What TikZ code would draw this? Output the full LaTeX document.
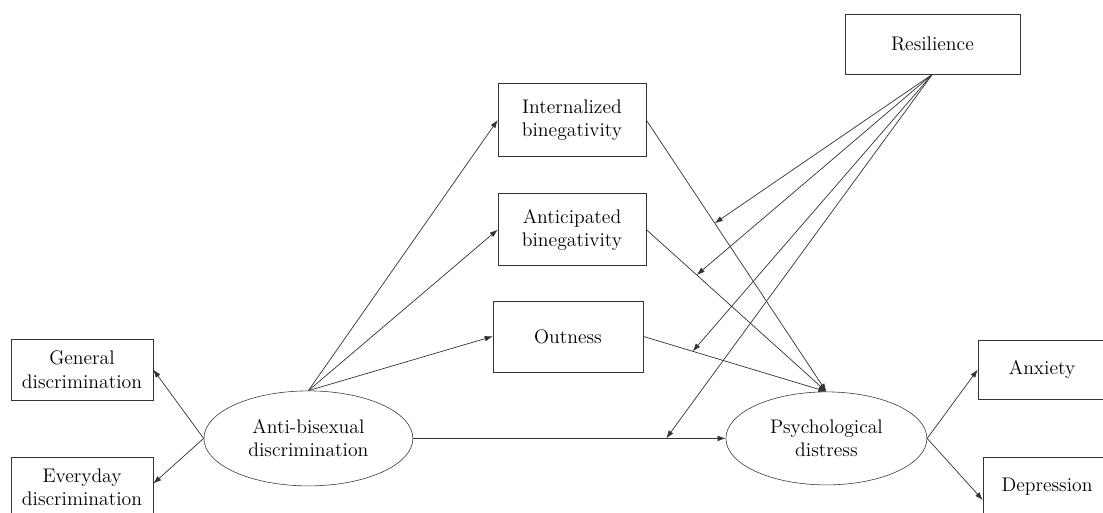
\documentclass[tikz,border=0pt]{standalone}
\usepackage{tikz}
\usetikzlibrary{arrows.meta}
\usetikzlibrary{shapes.geometric,positioning}

\begin{document}
\begin{tikzpicture}[>={Latex[length=2mm,width=1.4mm]},
	font=\fontsize{14}{16.5}\selectfont,
	caixa/.style={draw=black!80, align=center, inner sep=0pt},
	latente/.style={draw=black!80, ellipse, align=center, inner sep=0pt},
	seta/.style={->, draw=black!80, line width=0.5pt}]

	% Área do diagrama
	\useasboundingbox (0,0) rectangle (27.575,-12.825);

	% Variáveis latentes
	\node[latente, minimum width=5.225cm, minimum height=2.375cm] (anti) at (7.71,-10.96) {Anti-bisexual\\discrimination};
	\node[latente, minimum width=5.025cm, minimum height=2.325cm] (psych) at (20.66,-10.96) {Psychological\\distress};

	% Indicadores
	\node[caixa, minimum width=3.55cm, minimum height=1.525cm] (general) at (2.05,-9.24) {General\\discrimination};
	\node[caixa, minimum width=3.55cm, minimum height=1.525cm] (everyday) at (2.05,-12.19) {Everyday\\discrimination};
	\node[caixa, minimum width=3.2cm, minimum height=1.475cm] (anxiety) at (26.05,-9.24) {Anxiety};
	\node[caixa, minimum width=3.2cm, minimum height=1.5cm] (depression) at (26.175,-12.175) {Depression};

	% Mediadores
	\node[caixa, minimum width=3.7cm, minimum height=1.825cm] (internal) at (14.3,-3.0) {Internalized\\binegativity};
	\node[caixa, minimum width=3.7cm, minimum height=1.8cm] (anticip) at (14.3,-5.74) {Anticipated\\binegativity};
	\node[caixa, minimum width=3.75cm, minimum height=1.775cm] (outness) at (14.2,-8.41) {Outness};

	% Moderador
	\node[caixa, minimum width=4.375cm, minimum height=1.5cm] (resil) at (23.31,-1.1) {Resilience};

	% Medida das latentes
	\draw[seta] (anti.west) -- (general.east);
	\draw[seta] (anti.west) -- ([yshift=1mm]everyday.east);
	\draw[seta] (psych.east) -- (anxiety.west);
	\draw[seta] (psych.east) -- ([yshift=-3.25mm]depression.west);

	% Caminhos diretos e indiretos
	\draw[seta] (anti.north) -- (internal.west);
	\draw[seta] (anti.north) -- (anticip.west);
	\draw[seta] (anti.north) -- (outness.west);
	\draw[seta] (anti.east) -- coordinate[pos=0.81] (m4) (psych.west);
	\draw[seta] (internal.east) -- coordinate[pos=0.38] (m1) (psych.north);
	\draw[seta] (anticip.east) -- coordinate[pos=0.28] (m2) (psych.north);
	\draw[seta] (outness.east) -- coordinate[pos=0.27] (m3) (psych.north);

	% Moderação
	\draw[seta] (resil.south) -- (m1);
	\draw[seta] (resil.south) -- (m2);
	\draw[seta] (resil.south) -- (m3);
	\draw[seta] (resil.south) -- (m4);

\end{tikzpicture}
\end{document}
